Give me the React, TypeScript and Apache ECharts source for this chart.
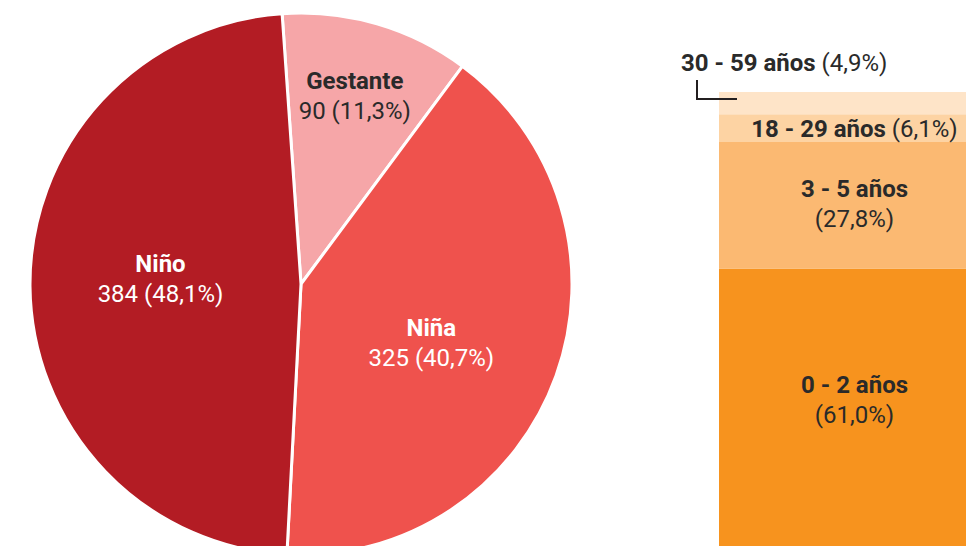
import React, { useEffect, useRef } from "react";
import * as echarts from "echarts";

const pieNames = ["Gestante", "Niña", "Niño"];
const pieValues = [90, 325, 384];
const piePercents = ["11,3%", "40,7%", "48,1%"];
const pieColors = ["#F6A6A8", "#EF524D", "#B31C24"];
const pieTextColors = ["#2A2A2A", "#FFFFFF", "#FFFFFF"];

const ageGroups = ["0 - 2 años", "3 - 5 años", "18 - 29 años", "30 - 59 años"];
const agePercents = [61.0, 27.8, 6.1, 4.9];
const ageColors = ["#F7931E", "#FBB972", "#FDD3A3", "#FEE4C8"];

const fmt = (v: number) => v.toFixed(1).replace(".", ",") + "%";
const FONT = "Roboto, 'DejaVu Sans', sans-serif";
const DARK = "#2A2A2A";

export default function App() {
  const ref = useRef<HTMLDivElement>(null);
  useEffect(() => {
    const chart = echarts.init(ref.current!, null, { renderer: "svg" });
    const richFor = (color: string, gap = 0) => ({
      b: { fontFamily: FONT, fontSize: 24, fontWeight: "bold", color, lineHeight: 30 },
      v: { fontFamily: FONT, fontSize: 24, fontWeight: "normal", color, lineHeight: 30, padding: [0, 0, 0, gap] },
    });
    const barSeries = ageGroups.map((g, i) => {
      let label: any;
      if (i === 3) {
        label = {
          show: true,
          position: [-38, -29],
          verticalAlign: "middle",
          align: "left",
          formatter: () => `{b|${g}}{v|(${fmt(agePercents[i])})}`,
          rich: richFor(DARK, 6),
        };
      } else if (i === 2) {
        label = {
          show: true,
          position: "inside",
          offset: [12, 1],
          formatter: () => `{b|${g}}{v|(${fmt(agePercents[i])})}`,
          rich: richFor(DARK, 6),
        };
      } else {
        label = {
          show: true,
          position: "inside",
          offset: i === 0 ? [12, -7] : [12, -1],
          formatter: () => `{b|${g}}\n{v|(${fmt(agePercents[i])})}`,
          rich: richFor(DARK),
        };
      }
      return {
        type: "bar",
        name: g,
        stack: "edad",
        barWidth: "100%",
        data: [agePercents[i]],
        itemStyle: { color: ageColors[i] },
        label,
        silent: true,
      };
    });
    const pieShift = [
      { dx: 15, dy: -55 },
      { dx: 0, dy: 12 },
      { dx: -2, dy: -6 },
    ];
    chart.setOption({
      animation: false,
      textStyle: { fontFamily: FONT },
      grid: { left: 719, top: 91, width: 272, height: 460 },
      xAxis: { type: "category", data: ["Edad"], show: false, boundaryGap: true },
      yAxis: { type: "value", min: 0, max: 100, show: false },
      graphic: [
        {
          type: "polyline",
          shape: { points: [[697, 80], [697, 99], [737, 99]] },
          style: { stroke: "#231F20", lineWidth: 2, fill: "none" },
          z: 100,
        },
      ],
      series: [
        {
          type: "pie",
          center: [301, 284],
          radius: 271,
          startAngle: 94,
          clockwise: true,
          silent: true,
          itemStyle: { borderColor: "#FFFFFF", borderWidth: 3 },
          label: { show: true, position: "inside" },
          labelLine: { show: false },
          labelLayout: (p: any) => pieShift[p.dataIndex] || {},
          data: pieNames.map((n, i) => ({
            name: n,
            value: pieValues[i],
            itemStyle: { color: pieColors[i] },
            label: {
              formatter: `{b|${n}}\n{v|${pieValues[i]} (${piePercents[i]})}`,
              rich: richFor(pieTextColors[i]),
            },
          })),
        },
        ...barSeries,
      ],
    });
    return () => chart.dispose();
  }, []);
  return (
    <div
      ref={ref}
      style={{ position: "fixed", left: 0, top: 0, width: 966, height: 546, background: "#FFFFFF" }}
    />
  );
}
